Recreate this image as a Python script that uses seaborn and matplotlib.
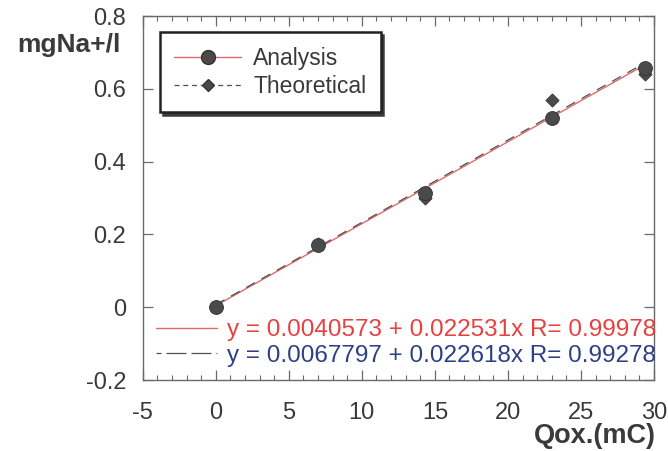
import numpy as np
import pandas as pd
import matplotlib
matplotlib.use("Agg")
import matplotlib.pyplot as plt
from matplotlib.lines import Line2D
from matplotlib.ticker import MultipleLocator
import seaborn as sns

# Measured sodium concentration vs. oxidation charge
charge_mc = [0.0, 7.0, 14.3, 23.0, 29.4]
analysis_na = [0.0, 0.170, 0.315, 0.519, 0.657]
theoretical_na = [0.0, 0.175, 0.300, 0.569, 0.640]

# Linear fits: intercept, slope, R
analysis_fit = (0.0040573, 0.022531, 0.99978)
theoretical_fit = (0.0067797, 0.022618, 0.99278)

x_ticks = [-5, 0, 5, 10, 15, 20, 25, 30]
y_ticks = [-0.2, 0, 0.2, 0.4, 0.6, 0.8]

sns.set_theme(style="ticks")
plt.rcParams["font.family"] = ["Liberation Sans", "DejaVu Sans"]

ink = "#3a3a3a"
red = "#e8403f"
navy = "#2e3f86"
marker_gray = "#4a4a4a"
fit_red = "#e06a6a"
fit_dark = "#505050"

fig = plt.figure(figsize=(6.68, 4.51), dpi=100)
ax = fig.add_axes([0.2136, 0.1574, 0.7655, 0.8071])

df_a = pd.DataFrame({"q": charge_mc, "na": analysis_na})
df_t = pd.DataFrame({"q": charge_mc, "na": theoretical_na})

# Fitted lines over the measured charge range
xfit = np.array([min(charge_mc), max(charge_mc)])
fit_a = pd.DataFrame({"q": xfit, "na": analysis_fit[0] + analysis_fit[1] * xfit})
fit_t = pd.DataFrame({"q": xfit, "na": theoretical_fit[0] + theoretical_fit[1] * xfit})
sns.lineplot(data=fit_a, x="q", y="na", ax=ax, color=fit_red, lw=1.0, zorder=2)
sns.lineplot(data=fit_t, x="q", y="na", ax=ax, color=fit_dark, lw=0.9,
             linestyle=(0, (8, 6)), zorder=2)

sns.scatterplot(data=df_t, x="q", y="na", ax=ax, marker="D", s=45,
                color=marker_gray, edgecolor="#333333", linewidth=0.6, zorder=3)
sns.scatterplot(data=df_a, x="q", y="na", ax=ax, marker="o", s=100,
                color=marker_gray, edgecolor="#333333", linewidth=0.6, zorder=4)

ax.set_xlim(-5, 30)
ax.set_ylim(-0.2, 0.8)
ax.set_xticks(x_ticks)
ax.set_yticks(y_ticks)
ax.set_xticklabels([f"{v:g}" for v in x_ticks])
ax.set_yticklabels([f"{v:g}" for v in y_ticks])
ax.xaxis.set_minor_locator(MultipleLocator(1))
ax.set_xlabel("")
ax.set_ylabel("")

for side in ["left", "bottom", "top", "right"]:
    ax.spines[side].set_visible(True)
    ax.spines[side].set_color("#6a6a6a")
    ax.spines[side].set_linewidth(1.0)

ax.tick_params(axis="both", which="both", direction="in", top=True, right=True,
               colors="#6a6a6a", labelcolor=ink, labelsize=17)
ax.tick_params(axis="both", which="major", length=7, width=0.9)
ax.tick_params(axis="x", which="minor", length=3.5, width=0.8)
ax.tick_params(axis="y", which="major", pad=12)
ax.tick_params(axis="x", which="major", pad=16)

# Series legend with a shadowed box
series_handles = [
    Line2D([], [], color=fit_red, lw=1.0, marker="o", markersize=10,
           markerfacecolor=marker_gray, markeredgecolor="#333333"),
    Line2D([], [], color=fit_dark, lw=0.9, linestyle=(0, (4, 3)), marker="D",
           markersize=6.5, markerfacecolor=marker_gray, markeredgecolor="#333333"),
]
leg1 = ax.legend(series_handles, ["Analysis", "Theoretical"], loc="upper left",
                 bbox_to_anchor=(0.034, 0.955), borderaxespad=0, fontsize=16.5,
                 frameon=True, fancybox=False, shadow={"color": "#3a3a3a", "alpha": 1.0},
                 handlelength=2.9, handletextpad=0.55, labelspacing=0.22,
                 borderpad=0.62, labelcolor=ink)
leg1.get_frame().set_edgecolor("#222222")
leg1.get_frame().set_linewidth(1.8)
ax.add_artist(leg1)

# Fit equations
eq_a = f"y = {analysis_fit[0]:.7f} + {analysis_fit[1]:.6f}x R= {analysis_fit[2]:.5f}"
eq_t = f"y = {theoretical_fit[0]:.7f} + {theoretical_fit[1]:.6f}x R= {theoretical_fit[2]:.5f}"
fit_handles = [
    Line2D([], [], color=fit_red, lw=1.0),
    Line2D([], [], color=fit_dark, lw=0.9, linestyle=(0, (4, 4, 12, 0))),
]
leg2 = ax.legend(fit_handles, [eq_a, eq_t], loc="lower left",
                 bbox_to_anchor=(0.0, 0.0), borderaxespad=0.15, fontsize=17.5,
                 frameon=False, handlelength=2.5, handletextpad=0.4,
                 labelspacing=0.14)
for txt, col in zip(leg2.get_texts(), [red, navy]):
    txt.set_color(col)

fig.text(0.026, 0.9, "mgNa+/l", fontsize=19, fontweight="bold", color=ink,
         ha="left", va="center")
fig.text(0.982, 0.034, "Qox.(mC)", fontsize=19.5, fontweight="bold", color=ink,
         ha="right", va="center")

fig.savefig("out.png", dpi=100, facecolor="white")
